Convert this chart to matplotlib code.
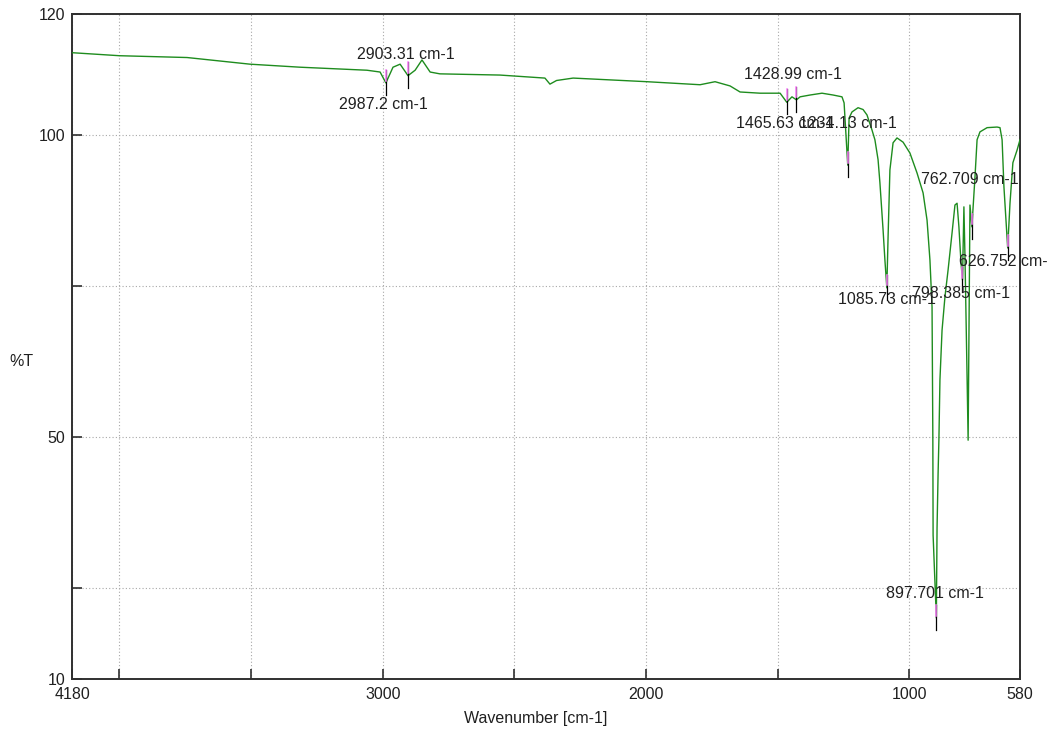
import matplotlib
matplotlib.use('Agg')
from matplotlib import pyplot as plt

# spectrum (wavenumber, %T)
wavenumber = [4180, 4000, 3743, 3504, 3314, 3060, 3010, 2988, 2961, 2934,
              2904, 2877, 2851, 2820, 2783, 2555, 2384, 2365, 2340, 2277,
              1996, 1795, 1738, 1681, 1643, 1567, 1491, 1465.63, 1446, 1428.99,
              1415, 1377, 1332, 1290, 1256, 1248, 1234.13, 1229, 1218, 1195,
              1176, 1161, 1142, 1131, 1119, 1112, 1100, 1093, 1085.73, 1081,
              1074, 1062, 1047, 1024, 998, 971, 948, 933, 922, 914,
              911, 910, 897.7, 895, 891, 888, 884, 876, 865, 853,
              838, 827, 819, 812, 804, 798.385, 793, 789, 781, 777,
              770, 762.709, 751, 743, 732, 705, 667, 656, 648, 641,
              626.752, 618, 607, 591, 580]
transmit = [113.6, 113.1, 112.8, 111.7, 111.2, 110.7, 110.4, 108.6, 111.2, 111.7,
            109.8, 110.7, 112.4, 110.4, 110.1, 109.9, 109.4, 108.4, 109.0, 109.4,
            108.8, 108.3, 108.8, 108.1, 107.1, 106.9, 106.9, 105.4, 106.3, 105.8,
            106.3, 106.6, 106.9, 106.6, 106.3, 105.3, 95.0, 102.8, 103.8, 104.5,
            104.2, 103.3, 100.8, 99.2, 95.9, 92.1, 84.3, 79.3, 74.7, 83.1,
            94.2, 98.7, 99.5, 98.8, 97.0, 93.7, 90.4, 85.9, 79.3, 71.5,
            50.0, 33.8, 20.1, 35.0, 44.1, 49.5, 59.5, 67.7, 73.2, 77.7,
            83.8, 88.4, 88.7, 84.8, 78.8, 76.0, 88.1, 80.0, 60.0, 49.5,
            88.4, 84.8, 93.0, 99.2, 100.5, 101.2, 101.3, 101.2, 99.2, 91.4,
            81.3, 88.7, 95.4, 97.5, 99.2]

peak_wn = [2987.2, 2903.31, 1465.63, 1428.99, 1234.13, 1085.73,
           897.701, 798.385, 762.709, 626.752]
peak_T = [108.6, 109.8, 105.4, 105.8, 95.0, 74.7, 20.1, 76.0, 84.8, 81.3]
peak_labels = ['2987.2 cm-1', '2903.31 cm-1', '1465.63 cm-1', '1428.99 cm-1',
               '1234.13 cm-1', '1085.73 cm-1', '897.701 cm-1', '798.385 cm-1',
               '762.709 cm-1', '626.752 cm-1']
# label offset from the peak in pixels (x right, y down)
label_off = [(-3, 22), (-2, -21), (-2, 21), (-3, -25), (0, -42),
             (0, 12), (-1, -24), (-1, 13), (-2, -47), (0, 14)]

xtick_pos = [4180, 4000, 3500, 3000, 2500, 2000, 1500, 1000, 580]
xtick_lab = ['4180', '', '', '3000', '', '2000', '', '1000', '580']
ytick_pos = [10, 25, 50, 75, 100, 120]
ytick_lab = ['10', '', '50', '', '100', '120']


def faz_grafico():
    plt.rcParams['font.family'] = ['Liberation Sans', 'DejaVu Sans']
    plt.rcParams['font.size'] = 11.5

    fig = plt.figure(figsize=(10.48, 7.31), dpi=100)
    ax = fig.add_axes([72 / 1048, 52 / 731, 948 / 1048, 665 / 731])

    ax.plot(wavenumber, transmit, color='#1e8c1e', lw=1.0, zorder=3)

    for w, t, lab, off in zip(peak_wn, peak_T, peak_labels, label_off):
        ax.plot([w, w], [t - 2.0, t + 2.2], color='black', lw=0.9, zorder=4)
        ax.plot([w, w], [t + 0.4, t + 2.2], color='#ff80ff', lw=1.1, zorder=5)
        ax.annotate(lab, (w, t), xytext=(off[0] * 0.72, -off[1] * 0.72),
                    textcoords='offset points', ha='center', va='center',
                    color='#202020', annotation_clip=False, zorder=6)

    ax.set_xlim(4180, 580)
    ax.set_ylim(10, 120)
    ax.set_xticks(xtick_pos)
    ax.set_xticklabels(xtick_lab)
    ax.set_yticks(ytick_pos)
    ax.set_yticklabels(ytick_lab)
    ax.tick_params(direction='in', length=7.5, width=1.2, color='#303030',
                   labelcolor='#202020')
    ax.tick_params(axis='x', pad=6)
    ax.tick_params(axis='y', pad=5)
    ax.grid(True, linestyle=(0, (1, 2)), color='#a8a8a8', lw=0.8)
    for s in ax.spines.values():
        s.set_linewidth(1.4)
        s.set_color('#303030')

    fig.text(536 / 1048, 1 - 718 / 731, 'Wavenumber [cm-1]',
             ha='center', va='center', color='#202020')
    fig.text(21 / 1048, 1 - 362 / 731, '%T',
             ha='center', va='center', color='#202020')

    fig.savefig('out.png', dpi=100)


def main():
    faz_grafico()


if __name__ == "__main__":
    main()
